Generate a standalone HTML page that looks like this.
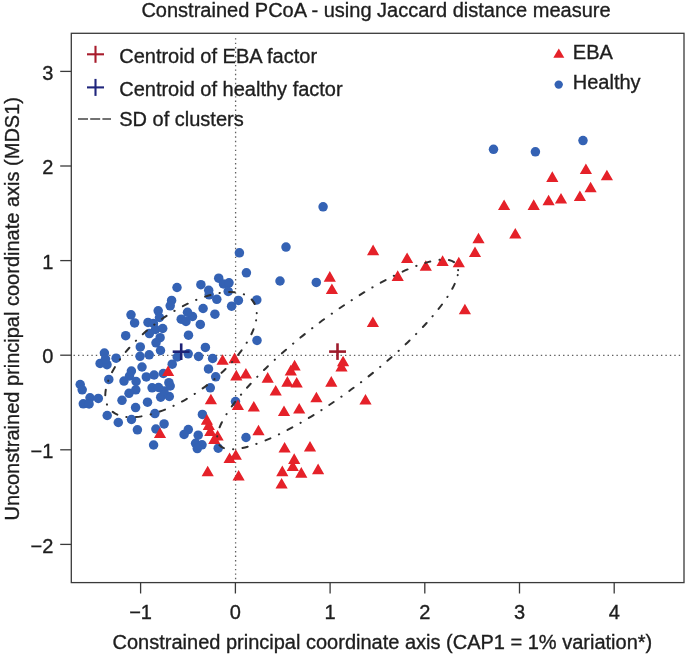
<!DOCTYPE html>
<html><head><meta charset="utf-8"><style>
html,body{margin:0;padding:0;background:#fff;}
body{width:685px;height:654px;overflow:hidden;}
svg{display:block;will-change:transform;}
text{font-family:"Liberation Sans",sans-serif;font-size:20px;fill:#1e1e1e;stroke:#1e1e1e;stroke-width:0.35px;}
</style></head><body>
<svg width="685" height="654" viewBox="0 0 685 654">
<text x="376" y="17.3" text-anchor="middle">Constrained PCoA - using Jaccard distance measure</text>
<g stroke="#606060" stroke-width="1.3" stroke-dasharray="1.4,3.05">
<line x1="235.6" y1="38.18" x2="235.6" y2="580" stroke-dasharray="1.4,3.06"/>
<line x1="73.55" y1="355.3" x2="683" y2="355.3"/>
</g>

<g fill="#3462b4"><circle cx="493.5" cy="149.3" r="4.75"/><circle cx="535.4" cy="151.8" r="4.75"/><circle cx="583" cy="140.6" r="4.75"/><circle cx="323.1" cy="206.8" r="4.75"/><circle cx="316.3" cy="282.4" r="4.75"/><circle cx="286" cy="247.1" r="4.75"/><circle cx="239.4" cy="252.8" r="4.75"/><circle cx="246.4" cy="272.8" r="4.75"/><circle cx="280" cy="281" r="4.75"/><circle cx="200.9" cy="284.7" r="4.75"/><circle cx="218.7" cy="278.2" r="4.75"/><circle cx="223.5" cy="283.9" r="4.75"/><circle cx="229" cy="282.8" r="4.75"/><circle cx="228.2" cy="291.4" r="4.75"/><circle cx="208.7" cy="290.3" r="4.75"/><circle cx="209.2" cy="294.8" r="4.75"/><circle cx="216.8" cy="299.3" r="4.75"/><circle cx="238.4" cy="300.4" r="4.75"/><circle cx="256.8" cy="299.9" r="4.75"/><circle cx="231.6" cy="306.2" r="4.75"/><circle cx="203.1" cy="308.5" r="4.75"/><circle cx="214.9" cy="314.2" r="4.75"/><circle cx="192.5" cy="316.5" r="4.75"/><circle cx="187.5" cy="312.3" r="4.75"/><circle cx="181.2" cy="319.2" r="4.75"/><circle cx="186" cy="321.5" r="4.75"/><circle cx="177" cy="287.5" r="4.75"/><circle cx="171.6" cy="300.4" r="4.75"/><circle cx="170.2" cy="305.8" r="4.75"/><circle cx="158.2" cy="310.8" r="4.75"/><circle cx="159.5" cy="317.5" r="4.75"/><circle cx="131" cy="314.8" r="4.75"/><circle cx="134.6" cy="322.9" r="4.75"/><circle cx="148" cy="322.4" r="4.75"/><circle cx="153.5" cy="323.5" r="4.75"/><circle cx="155.5" cy="329.5" r="4.75"/><circle cx="162.7" cy="328.5" r="4.75"/><circle cx="149.4" cy="333.6" r="4.75"/><circle cx="160.1" cy="337.7" r="4.75"/><circle cx="156" cy="342.8" r="4.75"/><circle cx="160.5" cy="350.5" r="4.75"/><circle cx="140.3" cy="346.9" r="4.75"/><circle cx="140" cy="356.3" r="4.75"/><circle cx="149.2" cy="354.8" r="4.75"/><circle cx="188.5" cy="335.2" r="4.75"/><circle cx="200.3" cy="324.4" r="4.75"/><circle cx="188.2" cy="353.8" r="4.75"/><circle cx="198.6" cy="356.5" r="4.75"/><circle cx="177.2" cy="357" r="4.75"/><circle cx="172.2" cy="364.2" r="4.75"/><circle cx="142" cy="367" r="4.75"/><circle cx="125.7" cy="335.7" r="4.75"/><circle cx="104.4" cy="353" r="4.75"/><circle cx="100.1" cy="363.4" r="4.75"/><circle cx="107" cy="364.7" r="4.75"/><circle cx="116.1" cy="358.2" r="4.75"/><circle cx="105.5" cy="359" r="4.75"/><circle cx="108.8" cy="379.4" r="4.75"/><circle cx="80.2" cy="384.5" r="4.75"/><circle cx="82.2" cy="389.8" r="4.75"/><circle cx="90" cy="397.8" r="4.75"/><circle cx="98.3" cy="398.4" r="4.75"/><circle cx="131.4" cy="371" r="4.75"/><circle cx="124" cy="381.1" r="4.75"/><circle cx="129.5" cy="376" r="4.75"/><circle cx="136.1" cy="381.5" r="4.75"/><circle cx="135.8" cy="389.8" r="4.75"/><circle cx="129" cy="393.3" r="4.75"/><circle cx="122" cy="400.3" r="4.75"/><circle cx="146.3" cy="376.9" r="4.75"/><circle cx="154.1" cy="375" r="4.75"/><circle cx="163.3" cy="373.5" r="4.75"/><circle cx="152.1" cy="387.8" r="4.75"/><circle cx="168.9" cy="382.7" r="4.75"/><circle cx="160.7" cy="397.2" r="4.75"/><circle cx="169.3" cy="396.5" r="4.75"/><circle cx="164" cy="391" r="4.75"/><circle cx="158.5" cy="387.5" r="4.75"/><circle cx="170.2" cy="386" r="4.75"/><circle cx="147.5" cy="402.2" r="4.75"/><circle cx="135.6" cy="407.6" r="4.75"/><circle cx="205.4" cy="347.4" r="4.75"/><circle cx="212.6" cy="358.4" r="4.75"/><circle cx="208.5" cy="368.9" r="4.75"/><circle cx="215.7" cy="376.8" r="4.75"/><circle cx="210.3" cy="387.8" r="4.75"/><circle cx="235.5" cy="401.6" r="4.75"/><circle cx="257" cy="340.4" r="4.75"/><circle cx="202.4" cy="414.4" r="4.75"/><circle cx="188.3" cy="429.6" r="4.75"/><circle cx="184.1" cy="434.4" r="4.75"/><circle cx="198.2" cy="435.2" r="4.75"/><circle cx="195.6" cy="443.3" r="4.75"/><circle cx="202" cy="444.8" r="4.75"/><circle cx="197.3" cy="448.6" r="4.75"/><circle cx="218.2" cy="448.2" r="4.75"/><circle cx="246" cy="437.5" r="4.75"/><circle cx="83.3" cy="403.8" r="4.75"/><circle cx="89.1" cy="404" r="4.75"/><circle cx="107.2" cy="415.5" r="4.75"/><circle cx="118.3" cy="422.5" r="4.75"/><circle cx="131.5" cy="419.5" r="4.75"/><circle cx="137.4" cy="429.8" r="4.75"/><circle cx="154.9" cy="413.6" r="4.75"/><circle cx="164.1" cy="423.9" r="4.75"/><circle cx="155.9" cy="429" r="4.75"/><circle cx="153.6" cy="445" r="4.75"/></g>
<path fill="#e52129" d="M552.3,171.3L558.4,181.9L546.2,181.9ZM585.9,163.5L592.0,174.1L579.8,174.1ZM606.9,169.7L613.0,180.3L600.8,180.3ZM590.6,181.7L596.7,192.3L584.5,192.3ZM579.9,190.5L586.0,201.1L573.8,201.1ZM561.0,193.0L567.1,203.6L554.9,203.6ZM548.6,194.7L554.7,205.3L542.5,205.3ZM533.7,199.3L539.8,209.9L527.6,209.9ZM504.1,199.4L510.2,210.0L498.0,210.0ZM515.3,227.9L521.4,238.5L509.2,238.5ZM478.5,232.7L484.6,243.3L472.4,243.3ZM475.0,246.5L481.1,257.1L468.9,257.1ZM458.8,256.7L464.9,267.3L452.7,267.3ZM442.6,255.3L448.7,265.9L436.5,265.9ZM425.8,260.2L431.9,270.8L419.7,270.8ZM407.1,252.4L413.2,263.0L401.0,263.0ZM373.1,244.6L379.2,255.2L367.0,255.2ZM397.7,270.3L403.8,280.9L391.6,280.9ZM329.8,271.1L335.9,281.7L323.7,281.7ZM331.9,283.4L338.0,294.0L325.8,294.0ZM372.9,316.5L379.0,327.1L366.8,327.1ZM343.1,355.7L349.2,366.3L337.0,366.3ZM341.5,360.9L347.6,371.5L335.4,371.5ZM331.3,376.1L337.4,386.7L325.2,386.7ZM316.4,391.7L322.5,402.3L310.3,402.3ZM365.5,393.9L371.6,404.5L359.4,404.5ZM222.6,354.2L228.7,364.8L216.5,364.8ZM234.6,352.6L240.7,363.2L228.5,363.2ZM236.3,369.8L242.4,380.4L230.2,380.4ZM245.9,368.0L252.0,378.6L239.8,378.6ZM210.9,393.7L217.0,404.3L204.8,404.3ZM237.9,399.4L244.0,410.0L231.8,410.0ZM253.8,400.9L259.9,411.5L247.7,411.5ZM267.7,372.1L273.8,382.7L261.6,382.7ZM275.7,385.0L281.8,395.6L269.6,395.6ZM294.6,359.8L300.7,370.4L288.5,370.4ZM290.8,364.8L296.9,375.4L284.7,375.4ZM287.4,376.1L293.5,386.7L281.3,386.7ZM296.7,376.9L302.8,387.5L290.6,387.5ZM284.0,405.4L290.1,416.0L277.9,416.0ZM299.2,402.9L305.3,413.5L293.1,413.5ZM258.5,424.7L264.6,435.3L252.4,435.3ZM284.6,441.9L290.7,452.5L278.5,452.5ZM310.0,441.0L316.1,451.6L303.9,451.6ZM294.2,453.3L300.3,463.9L288.1,463.9ZM160.0,427.5L166.1,438.1L153.9,438.1ZM206.9,414.1L213.0,424.7L200.8,424.7ZM208.8,419.3L214.9,429.9L202.7,429.9ZM210.3,425.4L216.4,436.0L204.2,436.0ZM217.6,430.0L223.7,440.6L211.5,440.6ZM214.3,433.3L220.4,443.9L208.2,443.9ZM229.6,452.5L235.7,463.1L223.5,463.1ZM235.8,449.2L241.9,459.8L229.7,459.8ZM207.7,465.7L213.8,476.3L201.6,476.3ZM238.6,470.0L244.7,480.6L232.5,480.6ZM282.3,465.6L288.4,476.2L276.2,476.2ZM292.8,460.5L298.9,471.1L286.7,471.1ZM301.3,467.1L307.4,477.7L295.2,477.7ZM318.1,463.6L324.2,474.2L312.0,474.2ZM281.6,477.9L287.7,488.5L275.5,488.5ZM168.1,365.5L174.2,376.1L162.0,376.1ZM464.9,303.7L471.0,314.3L458.8,314.3Z"/>
<g stroke-width="2.6">
<line x1="329.1" y1="351.6" x2="346" y2="351.6" stroke="#9e1b2c"/>
<line x1="337.5" y1="343.3" x2="337.5" y2="359.9" stroke="#9e1b2c"/>
<line x1="172.7" y1="351.7" x2="189.6" y2="351.7" stroke="#1e2376"/>
<line x1="181.2" y1="343.4" x2="181.2" y2="360" stroke="#1e2376"/>
</g>
<g fill="none" stroke="#303030" stroke-width="2" stroke-linecap="round" stroke-dasharray="0.3,9.255,5.5,9.255" stroke-dashoffset="0.15">
<path d="M457.688,275.085A149.005,36.270 -37.330 0 1 217.586,433.813A149.005,36.270 -37.330 0 1 457.688,275.085"/>
<path d="M256.091,320.321A89.711,40.059 -36.806 0 1 105.913,388.909A89.711,40.059 -36.806 0 1 256.091,320.321" pathLength="420.326"/>
</g>
<rect x="71.3" y="33.3" width="612.7" height="549.3" fill="none" stroke="#3a3a3a" stroke-width="1.3"/>
<g stroke="#3a3a3a" stroke-width="1.3">
<line x1="140.6" y1="582.6" x2="140.6" y2="593.5"/>
<line x1="235.4" y1="582.6" x2="235.4" y2="593.5"/>
<line x1="330.1" y1="582.6" x2="330.1" y2="593.5"/>
<line x1="424.8" y1="582.6" x2="424.8" y2="593.5"/>
<line x1="519.5" y1="582.6" x2="519.5" y2="593.5"/>
<line x1="614.2" y1="582.6" x2="614.2" y2="593.5"/>
<line x1="60.2" y1="71.4" x2="71.3" y2="71.4"/>
<line x1="60.2" y1="166" x2="71.3" y2="166"/>
<line x1="60.2" y1="260.6" x2="71.3" y2="260.6"/>
<line x1="60.2" y1="355.2" x2="71.3" y2="355.2"/>
<line x1="60.2" y1="449.8" x2="71.3" y2="449.8"/>
<line x1="60.2" y1="544.4" x2="71.3" y2="544.4"/>
</g>
<g text-anchor="middle">
<text x="140.6" y="618.5">&#8722;1</text>
<text x="235.4" y="618.5">0</text>
<text x="330.1" y="618.5">1</text>
<text x="424.8" y="618.5">2</text>
<text x="519.5" y="618.5">3</text>
<text x="614.2" y="618.5">4</text>
</g>
<g text-anchor="end">
<text x="53.4" y="80.3">3</text>
<text x="53.4" y="174.45">2</text>
<text x="53.4" y="268.7">1</text>
<text x="53.4" y="363.2">0</text>
<text x="53.4" y="457.5">&#8722;1</text>
<text x="53.4" y="553.1">&#8722;2</text>
</g>
<text x="382.4" y="649" text-anchor="middle">Constrained principal coordinate axis (CAP1 = 1% variation*)</text>
<text transform="translate(18.5,308.8) rotate(-90)" text-anchor="middle">Unconstrained principal coordinate axis (MDS1)</text>
<g stroke-width="2.1">
<line x1="87" y1="54.3" x2="104" y2="54.3" stroke="#a81c2c"/>
<line x1="95.5" y1="45.8" x2="95.5" y2="62.8" stroke="#a81c2c"/>
<line x1="87" y1="87.4" x2="104" y2="87.4" stroke="#20267c"/>
<line x1="95.5" y1="78.9" x2="95.5" y2="95.9" stroke="#20267c"/>
</g>
<line x1="78" y1="119" x2="111" y2="119" stroke="#444" stroke-width="1.6" stroke-dasharray="10,2.2"/>
<text x="119.2" y="62.9">Centroid of EBA factor</text>
<text x="119.2" y="95.5">Centroid of healthy factor</text>
<text x="119.2" y="126.2">SD of clusters</text>
<path d="M558.8,48.6L564.3,57.8L553.3,57.8Z" fill="#e52129"/>
<circle cx="558.7" cy="84.6" r="4.2" fill="#3462b4"/>
<text x="572.8" y="59">EBA</text>
<text x="572.8" y="88.5">Healthy</text>
</svg>
</body></html>
